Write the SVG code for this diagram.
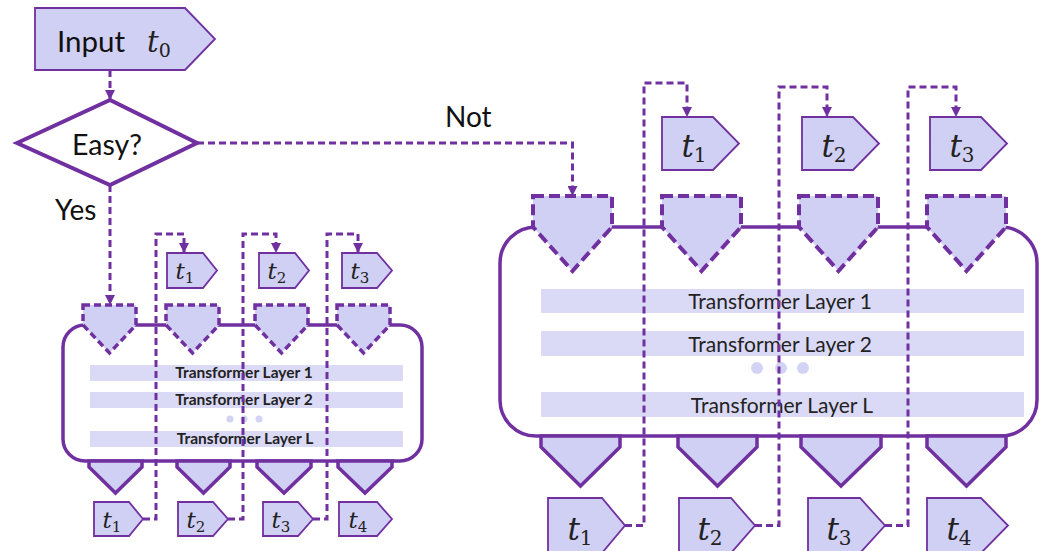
<svg xmlns="http://www.w3.org/2000/svg" width="1040" height="551" viewBox="0 0 1040 551">
  <style>
    .lbl { font-family: "Lato", "Liberation Sans", sans-serif; fill: #111; }
    .math { font-family: "DejaVu Serif", "Liberation Serif", serif; font-style: italic; fill: #222; }
    .sub { font-style: normal; }
    .tok { fill: #d0cff4; stroke: #7030a0; stroke-width: 1.8; stroke-linejoin: miter; }
    .inp-s { fill: #d0cff4; stroke: #7030a0; stroke-width: 3.5; stroke-dasharray: 7 4; }
    .inp-b { fill: #d0cff4; stroke: #7030a0; stroke-width: 4; stroke-dasharray: 11 5; }
    .out { fill: #d0cff4; stroke: #7030a0; stroke-width: 3.5; stroke-linejoin: miter; }
    .box { fill: #fff; stroke: #7030a0; stroke-width: 3.5; }
    .bar { fill: #dadaf7; }
    .dot { fill: #d3d3f5; }
    .flow { fill: none; stroke: #7030a0; stroke-width: 3; stroke-dasharray: 7 4; }
    .tl-s { font-family: "Lato", "Liberation Sans", sans-serif; font-size: 15.5px; font-weight: bold; fill: #222; text-anchor: middle; }
    .tl-b { font-family: "Lato", "Liberation Sans", sans-serif; font-size: 21px; fill: #222; text-anchor: middle; }
  </style>
  <defs>
    <marker id="arrow" viewBox="0 0 10 10" refX="10" refY="5" markerWidth="10" markerHeight="10" markerUnits="userSpaceOnUse" orient="auto">
      <path d="M0,0 L10,5 L0,10 z" fill="#7030a0"/>
    </marker>
  </defs>

  <!-- start token -->
  <g id="input">
    <polygon class="tok" points="35,8 185,8 215,39 185,70 35,70"/>
    <text class="lbl" x="57" y="52" font-size="29.5">Input</text>
    <text class="math" x="147" y="52" font-size="29">t<tspan class="sub" font-size="19" dy="5">0</tspan></text>
  </g>

  <!-- decision -->
  <g id="easy">
    <polygon points="17,143 110,100 197,143 110,185" fill="#fff" stroke="#7030a0" stroke-width="4"/>
    <text class="lbl" x="107" y="155" font-size="28.5" text-anchor="middle">Easy?</text>
  </g>
  <text class="lbl" x="55" y="220" font-size="28">Yes</text>
  <text class="lbl" x="445" y="127" font-size="28">Not</text>

  <!-- small model -->
  <g id="small-model">
    <rect class="box" x="63" y="325" width="359" height="136" rx="22"/>
    <rect class="bar" x="90" y="365" width="313" height="16"/>
    <rect class="bar" x="90" y="392" width="313" height="16"/>
    <rect class="bar" x="90" y="431" width="313" height="16"/>
    <text class="tl-s" x="244" y="378">Transformer Layer 1</text>
    <text class="tl-s" x="244" y="405">Transformer Layer 2</text>
    <text class="tl-s" x="245" y="444">Transformer Layer L</text>
    <circle class="dot" cx="230" cy="419" r="3.5"/>
    <circle class="dot" cx="244" cy="419" r="3.5"/>
    <circle class="dot" cx="259" cy="419" r="3.5"/>
    <polygon class="out" points="89,461 142,461 142,467 115.5,493 89,467"/>
    <polygon class="out" points="177,461 230,461 230,467 203.5,493 177,467"/>
    <polygon class="out" points="257,461 311,461 311,467 284,493 257,467"/>
    <polygon class="out" points="338,461 392,461 392,467 365,493 338,467"/>
    <polygon class="inp-s" points="83,305 136,305 136,325 109.5,353 83,325"/>
    <polygon class="inp-s" points="166,305 219,305 219,325 192.5,353 166,325"/>
    <polygon class="inp-s" points="255,305 308,305 308,325 281.5,353 255,325"/>
    <polygon class="inp-s" points="337,305 390,305 390,325 363.5,353 337,325"/>
  </g>

  <!-- small model tokens -->
  <g id="small-in-t1">
    <polygon class="tok" points="167,253 203,253 217,270.5 203,288 167,288"/>
    <text class="math" x="185" y="279" font-size="23" text-anchor="middle">t<tspan class="sub" font-size="15" dy="4">1</tspan></text>
  </g>
  <g id="small-in-t2">
    <polygon class="tok" points="259,253 295,253 309,270.5 295,288 259,288"/>
    <text class="math" x="277" y="279" font-size="23" text-anchor="middle">t<tspan class="sub" font-size="15" dy="4">2</tspan></text>
  </g>
  <g id="small-in-t3">
    <polygon class="tok" points="342,253 377,253 392,270.5 377,288 342,288"/>
    <text class="math" x="360" y="279" font-size="23" text-anchor="middle">t<tspan class="sub" font-size="15" dy="4">3</tspan></text>
  </g>
  <g id="small-out-t1">
    <polygon class="tok" points="94,502 129,502 143,519 129,536 94,536"/>
    <text class="math" x="112" y="528" font-size="23" text-anchor="middle">t<tspan class="sub" font-size="15" dy="4">1</tspan></text>
  </g>
  <g id="small-out-t2">
    <polygon class="tok" points="178,502 213,502 228,519 213,536 178,536"/>
    <text class="math" x="196" y="528" font-size="23" text-anchor="middle">t<tspan class="sub" font-size="15" dy="4">2</tspan></text>
  </g>
  <g id="small-out-t3">
    <polygon class="tok" points="263,502 298,502 313,519 298,536 263,536"/>
    <text class="math" x="281" y="528" font-size="23" text-anchor="middle">t<tspan class="sub" font-size="15" dy="4">3</tspan></text>
  </g>
  <g id="small-out-t4">
    <polygon class="tok" points="339,502 377,502 392,519 377,536 339,536"/>
    <text class="math" x="358" y="528" font-size="23" text-anchor="middle">t<tspan class="sub" font-size="15" dy="4">4</tspan></text>
  </g>

  <!-- large model -->
  <g id="large-model">
    <rect class="box" x="500" y="227" width="537" height="209" rx="36"/>
    <rect class="bar" x="541" y="289" width="483" height="24"/>
    <rect class="bar" x="541" y="331" width="483" height="25"/>
    <rect class="bar" x="541" y="392" width="483" height="25"/>
    <text class="tl-b" x="780" y="309">Transformer Layer 1</text>
    <text class="tl-b" x="780" y="352">Transformer Layer 2</text>
    <text class="tl-b" x="782" y="413">Transformer Layer L</text>
    <circle class="dot" cx="757" cy="368" r="6"/>
    <circle class="dot" cx="781" cy="368" r="6"/>
    <circle class="dot" cx="803" cy="368" r="6"/>
    <polygon class="out" points="541,436 620,436 620,447 580.5,486 541,447"/>
    <polygon class="out" points="678,436 757,436 757,447 717.5,486 678,447"/>
    <polygon class="out" points="801,436 881,436 881,447 841,486 801,447"/>
    <polygon class="out" points="927,436 1006,436 1006,447 966.5,486 927,447"/>
    <polygon class="inp-b" points="533,196 612,196 612,227 572.5,271 533,227"/>
    <polygon class="inp-b" points="662,196 741,196 741,227 701.5,271 662,227"/>
    <polygon class="inp-b" points="799,196 878,196 878,227 838.5,271 799,227"/>
    <polygon class="inp-b" points="927,196 1006,196 1006,227 966.5,271 927,227"/>
  </g>

  <!-- large model tokens -->
  <g id="large-in-t1">
    <polygon class="tok" points="662,117 713,117 739,143.5 713,170 662,170"/>
    <text class="math" x="694" y="157" font-size="31" text-anchor="middle">t<tspan class="sub" font-size="20" dy="5">1</tspan></text>
  </g>
  <g id="large-in-t2">
    <polygon class="tok" points="802,117 853,117 879,143.5 853,170 802,170"/>
    <text class="math" x="834" y="157" font-size="31" text-anchor="middle">t<tspan class="sub" font-size="20" dy="5">2</tspan></text>
  </g>
  <g id="large-in-t3">
    <polygon class="tok" points="930,117 981,117 1007,143.5 981,170 930,170"/>
    <text class="math" x="962" y="157" font-size="31" text-anchor="middle">t<tspan class="sub" font-size="20" dy="5">3</tspan></text>
  </g>
  <g id="large-out-t1">
    <polygon class="tok" points="548,498 602,498 625,525.5 602,553 548,553"/>
    <text class="math" x="580" y="540" font-size="31" text-anchor="middle">t<tspan class="sub" font-size="20" dy="5">1</tspan></text>
  </g>
  <g id="large-out-t2">
    <polygon class="tok" points="679,498 731,498 755,525.5 731,553 679,553"/>
    <text class="math" x="710" y="540" font-size="31" text-anchor="middle">t<tspan class="sub" font-size="20" dy="5">2</tspan></text>
  </g>
  <g id="large-out-t3">
    <polygon class="tok" points="808,498 860,498 885,525.5 860,553 808,553"/>
    <text class="math" x="839" y="540" font-size="31" text-anchor="middle">t<tspan class="sub" font-size="20" dy="5">3</tspan></text>
  </g>
  <g id="large-out-t4">
    <polygon class="tok" points="927,498 981,498 1008,525.5 981,553 927,553"/>
    <text class="math" x="959" y="540" font-size="31" text-anchor="middle">t<tspan class="sub" font-size="20" dy="5">4</tspan></text>
  </g>

  <!-- connectors -->
  <g id="connectors">
    <path class="flow" d="M110,70 V100" marker-end="url(#arrow)"/>
    <path class="flow" d="M110,185 V305" marker-end="url(#arrow)"/>
    <path class="flow" d="M197,143 H572.5 V196" marker-end="url(#arrow)"/>
    <path class="flow" d="M143,519 H156 V234 H184 V253" marker-end="url(#arrow)"/>
    <path class="flow" d="M228,519 H243 V234 H276 V253" marker-end="url(#arrow)"/>
    <path class="flow" d="M313,519 H327 V234 H358 V253" marker-end="url(#arrow)"/>
    <path class="flow" d="M625,525.5 H644 V83 H687 V117" marker-end="url(#arrow)"/>
    <path class="flow" d="M755,525.5 H779 V87 H827 V117" marker-end="url(#arrow)"/>
    <path class="flow" d="M885,525.5 H908 V87 H956 V117" marker-end="url(#arrow)"/>
  </g>
</svg>
